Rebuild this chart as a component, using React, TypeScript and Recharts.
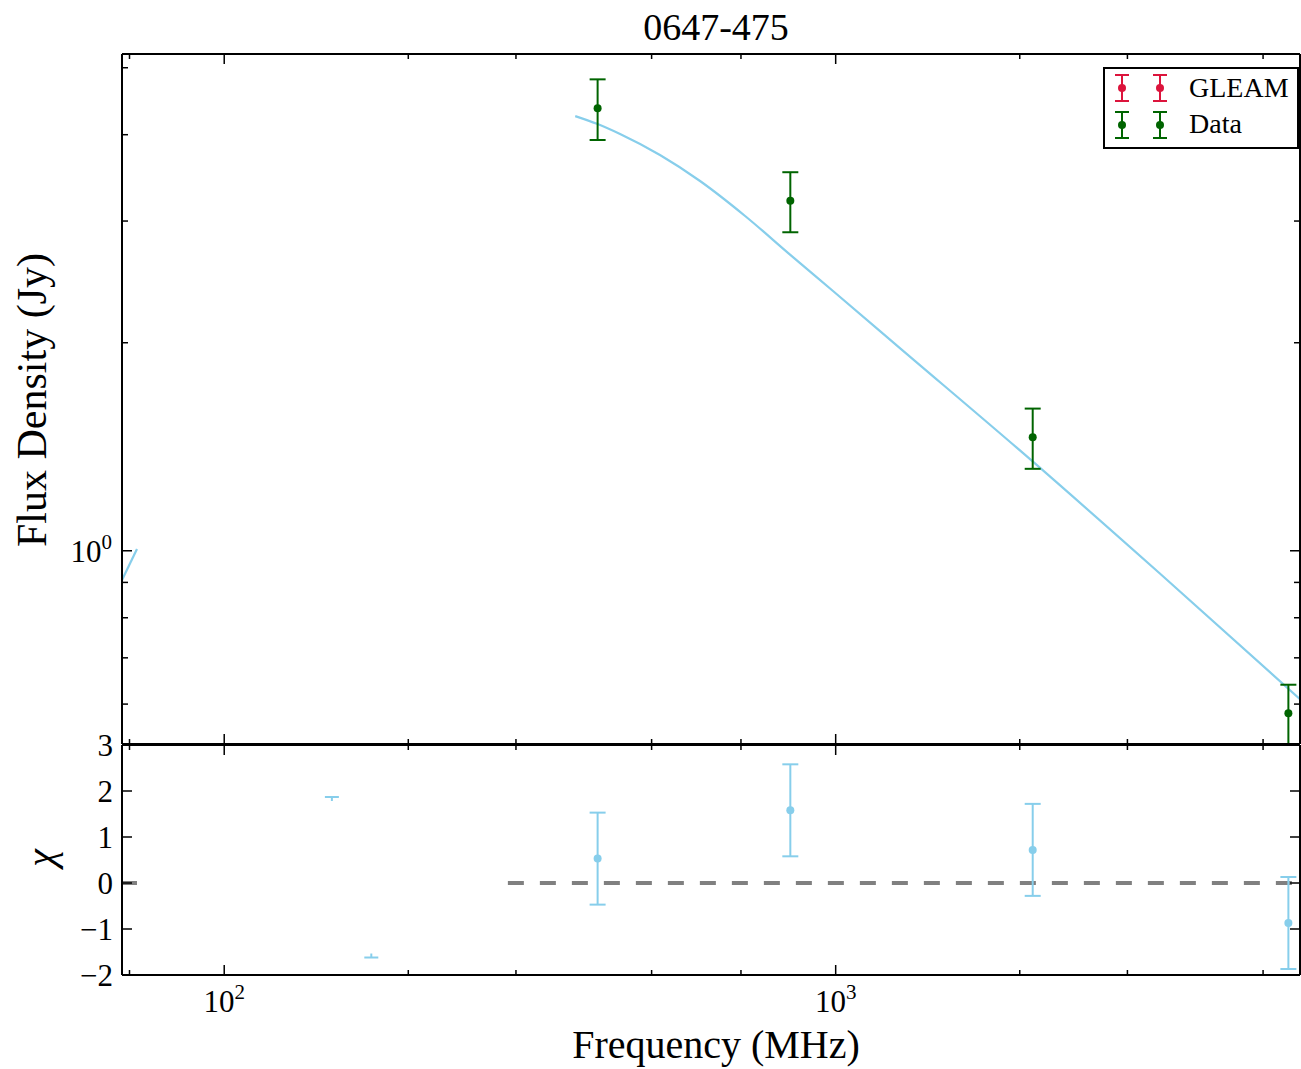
import React from 'react';
import { ComposedChart, Line, Scatter, ErrorBar, XAxis, YAxis } from 'recharts';

const FONT = '"Liberation Serif", "Times New Roman", serif';
const SKY = '#87ceeb';
const GREEN = '#006400';
const CRIMSON = '#dc143c';
const GREY = '#808080';

// measured flux densities (MHz, Jy)
const dataFreq = [408, 843, 2100, 5500];
const dataFlux = [4.37, 3.21, 1.46, 0.582];
const dataErr = [0.44, 0.32, 0.146, 0.058];

// model curve
const modelFreq = [375, 407, 444, 516, 600, 711, 842, 990, 1275, 2095, 3390, 5746];
const modelFlux = [4.256, 4.148, 4.009, 3.738, 3.428, 3.051, 2.683, 2.376, 1.963, 1.349, 0.927, 0.61];
const lowFreq = [68, 72];
const lowFlux = [0.906, 1.006];

// residuals
const chiVal = [0.53, 1.58, 0.72, -0.87];
const chiErr = [1, 1, 1, 1];
const capFreq = [150, 174];
const capChi = [1.87, -1.62];
const zeroLowFreq = [68, 72];
const zeroFreq = [291, 5746];

const xTicks = [70, 100, 200, 300, 500, 700, 1000, 2000, 3000, 5000];
const fluxTicks = [0.6, 0.7, 0.8, 0.9, 1, 2, 3, 4, 5];
const chiTicks = [-2, -1, 0, 1, 2, 3];

const X_DOMAIN: [number, number] = [68.05, 5746];
const FLUX_DOMAIN: [number, number] = [0.5253, 5.234];
const CHI_DOMAIN: [number, number] = [-2, 3];

const dataRows = dataFreq.map((x, i) => ({ x, y: dataFlux[i], err: dataErr[i] }));
const modelRows = modelFreq.map((x, i) => ({ x, y: modelFlux[i] }));
const lowRows = lowFreq.map((x, i) => ({ x, y: lowFlux[i] }));
const chiRows = dataFreq.map((x, i) => ({ x, y: chiVal[i], err: chiErr[i] }));
const capRows = capFreq.map((x, i) => ({ x, y: capChi[i] }));
const zeroLowRows = zeroLowFreq.map((x) => ({ x, y: 0 }));
const zeroRows = zeroFreq.map((x) => ({ x, y: 0 }));

const axisLine = { stroke: '#000', strokeWidth: 2 };

const XTick = (props: any) => {
  const { x, y, payload, dir, labels } = props;
  const v = payload.value;
  const major = v === 100 || v === 1000;
  const exp = Math.round(Math.log10(v));
  return (
    <g>
      <line x1={x} x2={x} y1={y} y2={y + dir * (major ? 10 : 5)} stroke="#000" strokeWidth={1.5} />
      {labels && major && (
        <text x={x} y={y + 37} textAnchor="middle" fontFamily={FONT} fontSize={31} fill="#000">
          10
          <tspan dy={-13} fontSize={21}>{exp}</tspan>
        </text>
      )}
    </g>
  );
};

const FluxTick = (props: any) => {
  const { x, y, payload, dir, labels } = props;
  const major = payload.value === 1;
  return (
    <g>
      <line x1={x} x2={x + dir * (major ? 10 : 6)} y1={y} y2={y} stroke="#000" strokeWidth={1.5} />
      {labels && major && (
        <text x={x - 10} y={y + 11} textAnchor="end" fontFamily={FONT} fontSize={31} fill="#000">
          10
          <tspan dy={-13} fontSize={21}>0</tspan>
        </text>
      )}
    </g>
  );
};

const ChiTick = (props: any) => {
  const { x, y, payload, dir, labels } = props;
  const v = payload.value;
  return (
    <g>
      <line x1={x} x2={x + dir * 10} y1={y} y2={y} stroke="#000" strokeWidth={1.5} />
      {labels && (
        <text x={x - 9} y={y + 11} textAnchor="end" fontFamily={FONT} fontSize={31} fill="#000">
          {v < 0 ? `\u2212${Math.abs(v)}` : v}
        </text>
      )}
    </g>
  );
};

const dot = (color: string) => (p: any) => <circle cx={p.cx} cy={p.cy} r={4} fill={color} />;

const capShape = (p: any) => {
  const stub = p.payload.y > 0 ? 4 : -4;
  return (
    <g stroke={SKY} strokeWidth={2}>
      <line x1={p.cx - 7} x2={p.cx + 7} y1={p.cy} y2={p.cy} />
      <line x1={p.cx} x2={p.cx} y1={p.cy} y2={p.cy + stub} />
    </g>
  );
};

const xAxes = (labels: boolean) => [
  <XAxis
    key="xb"
    dataKey="x"
    type="number"
    scale="log"
    domain={X_DOMAIN}
    allowDataOverflow
    ticks={xTicks}
    interval={0}
    tickSize={0}
    tickMargin={0}
    tickLine={false}
    axisLine={axisLine}
    height={1}
    tick={(p: any) => <XTick {...p} dir={-1} labels={labels} />}
  />,
  <XAxis
    key="xt"
    xAxisId="top"
    orientation="top"
    dataKey="x"
    type="number"
    scale="log"
    domain={X_DOMAIN}
    allowDataOverflow
    ticks={xTicks}
    interval={0}
    tickSize={0}
    tickMargin={0}
    tickLine={false}
    axisLine={axisLine}
    height={1}
    tick={(p: any) => <XTick {...p} dir={1} labels={false} />}
  />,
];

const LegendMark = ({ x, y, color }: { x: number; y: number; color: string }) => (
  <g stroke={color} strokeWidth={2}>
    <line x1={x} x2={x} y1={y - 13} y2={y + 13} />
    <line x1={x - 7} x2={x + 7} y1={y - 13} y2={y - 13} />
    <line x1={x - 7} x2={x + 7} y1={y + 13} y2={y + 13} />
    <circle cx={x} cy={y} r={4} fill={color} stroke="none" />
  </g>
);

export default function App() {
  return (
    <div style={{ position: 'absolute', left: 0, top: 0, width: 1301, height: 1069, background: '#fff' }}>
      <div style={{ position: 'absolute', left: 0, top: 0 }}>
        <ComposedChart width={1301} height={745} margin={{ top: 53, right: 0, bottom: 0, left: 0 }}>
          {xAxes(false)}
          <YAxis
            type="number"
            scale="log"
            domain={FLUX_DOMAIN}
            allowDataOverflow
            ticks={fluxTicks}
            interval={0}
            width={122}
            tickSize={0}
            tickMargin={0}
            tickLine={false}
            axisLine={axisLine}
            tick={(p: any) => <FluxTick {...p} dir={1} labels />}
          />
          <YAxis
            yAxisId="right"
            orientation="right"
            type="number"
            scale="log"
            domain={FLUX_DOMAIN}
            allowDataOverflow
            ticks={fluxTicks}
            interval={0}
            width={1}
            tickSize={0}
            tickMargin={0}
            tickLine={false}
            axisLine={axisLine}
            tick={(p: any) => <FluxTick {...p} dir={-1} labels={false} />}
          />
          <Line data={lowRows} dataKey="y" type="linear" stroke={SKY} strokeWidth={2.2} dot={false} activeDot={false} isAnimationActive={false} />
          <Line data={modelRows} dataKey="y" type="monotone" stroke={SKY} strokeWidth={2.2} dot={false} activeDot={false} isAnimationActive={false} />
          <Scatter data={dataRows} dataKey="y" fill={GREEN} shape={dot(GREEN)} isAnimationActive={false}>
            <ErrorBar dataKey="err" direction="y" width={8} stroke={GREEN} strokeWidth={2} isAnimationActive={false} />
          </Scatter>
        </ComposedChart>
      </div>

      <div style={{ position: 'absolute', left: 0, top: 0 }}>
        <ComposedChart width={1301} height={1069} margin={{ top: 744, right: 0, bottom: 93, left: 0 }}>
          {xAxes(true)}
          <YAxis
            type="number"
            domain={CHI_DOMAIN}
            allowDataOverflow
            ticks={chiTicks}
            interval={0}
            width={122}
            tickSize={0}
            tickMargin={0}
            tickLine={false}
            axisLine={axisLine}
            tick={(p: any) => <ChiTick {...p} dir={1} labels />}
          />
          <YAxis
            yAxisId="right"
            orientation="right"
            type="number"
            domain={CHI_DOMAIN}
            allowDataOverflow
            ticks={chiTicks}
            interval={0}
            width={1}
            tickSize={0}
            tickMargin={0}
            tickLine={false}
            axisLine={axisLine}
            tick={(p: any) => <ChiTick {...p} dir={-1} labels={false} />}
          />
          <Line data={zeroLowRows} dataKey="y" stroke={GREY} strokeWidth={4} strokeDasharray="16 16" dot={false} activeDot={false} isAnimationActive={false} />
          <Line data={zeroRows} dataKey="y" stroke={GREY} strokeWidth={4} strokeDasharray="16 16" dot={false} activeDot={false} isAnimationActive={false} />
          <Scatter data={capRows} dataKey="y" shape={capShape} isAnimationActive={false} />
          <Scatter data={chiRows} dataKey="y" fill={SKY} shape={dot(SKY)} isAnimationActive={false}>
            <ErrorBar dataKey="err" direction="y" width={8} stroke={SKY} strokeWidth={2} isAnimationActive={false} />
          </Scatter>
        </ComposedChart>
      </div>

      <svg width={1301} height={1069} style={{ position: 'absolute', left: 0, top: 0, pointerEvents: 'none' }}>
        <text x={716} y={40} textAnchor="middle" fontFamily={FONT} fontSize={38} fill="#000">0647-475</text>
        <text x={716} y={1058} textAnchor="middle" fontFamily={FONT} fontSize={40} fill="#000">Frequency (MHz)</text>
        <text x={46} y={400} transform="rotate(-90 46 400)" textAnchor="middle" fontFamily={FONT} fontSize={42} fill="#000">
          Flux Density (Jy)
        </text>
        <text x={54} y={858} transform="rotate(-90 54 858)" textAnchor="middle" fontFamily={FONT} fontSize={40} fontStyle="italic" fill="#000">
          χ
        </text>
        <g>
          <rect x={1104} y={68} width={194} height={80} fill="#fff" stroke="#000" strokeWidth={2} />
          <LegendMark x={1122} y={88} color={CRIMSON} />
          <LegendMark x={1160} y={88} color={CRIMSON} />
          <LegendMark x={1122} y={125} color={GREEN} />
          <LegendMark x={1160} y={125} color={GREEN} />
          <text x={1189} y={97} fontFamily={FONT} fontSize={28} fill="#000">GLEAM</text>
          <text x={1189} y={133} fontFamily={FONT} fontSize={28} fill="#000">Data</text>
        </g>
      </svg>
    </div>
  );
}
